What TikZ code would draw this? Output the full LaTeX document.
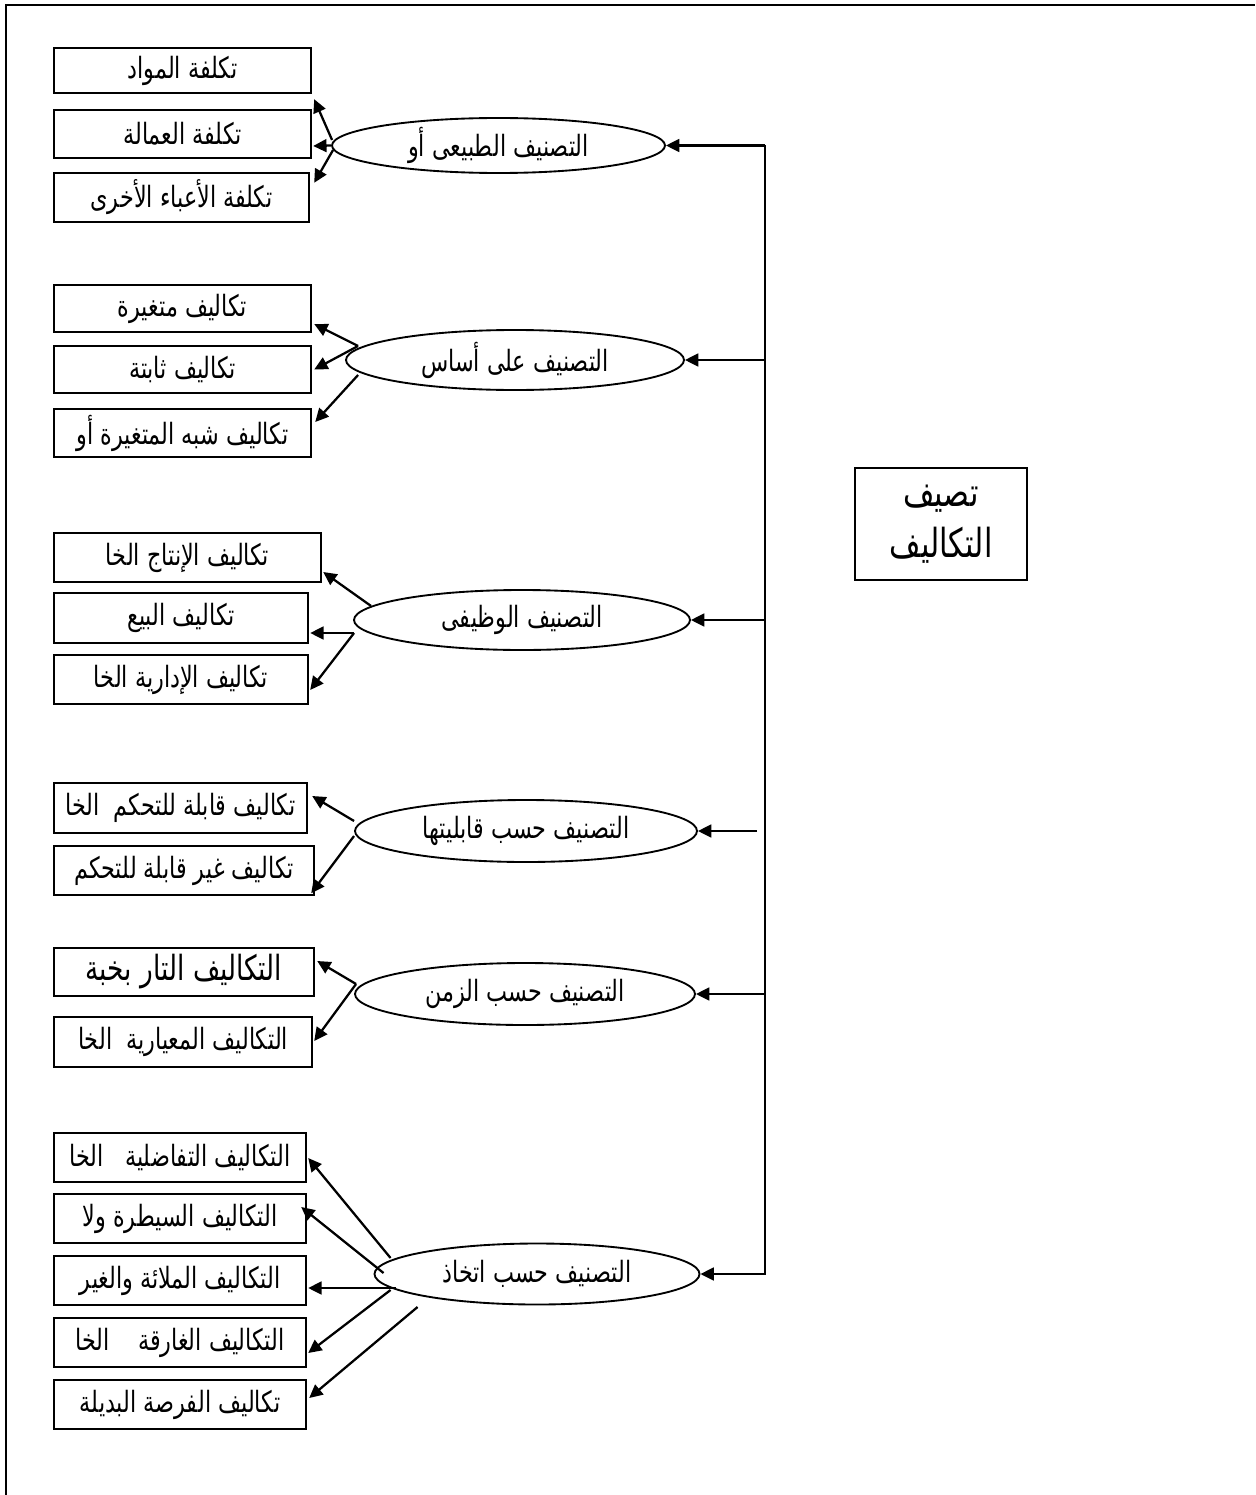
\documentclass[tikz,border=0pt]{standalone}
\usepackage{fontspec}
\usetikzlibrary{shapes.geometric,arrows.meta,calc}
\TeXXeTstate=1
\newfontfamily\arabicfont[Script=Arabic,FakeStretch=0.76]{DejaVu Sans}
\newcommand{\artxt}[1]{{\arabicfont\beginR #1\endR}}
\begin{document}
\begin{tikzpicture}[x=0.375pt,y=-0.375pt,
  cbox/.style={draw, line width=0.9pt, rectangle, inner sep=0pt, minimum height=48*0.375pt, font=\fontsize{11}{13}\selectfont},
  cell/.style={draw, line width=0.7pt, ellipse, inner sep=0pt, font=\fontsize{11}{13}\selectfont},
  arr/.style={line width=0.85pt, -{Triangle[length=5pt,width=4.8pt]}},
  frame/.style={line width=1.1pt}]
\useasboundingbox (0,0) rectangle (1255,1495);
\draw[frame] (6,1495) -- (6,5) -- (1255,5);

% group 1
\node[cbox, minimum width=257*0.375pt, minimum height=45*0.375pt] (a1) at (182.5,70.5) {\artxt{تكلفة المواد}};
\node[cbox, minimum width=257*0.375pt] (a2) at (182.5,134) {\artxt{تكلفة العمالة}};
\node[cbox, minimum width=255*0.375pt, minimum height=49*0.375pt] (a3) at (181.5,197.5) {\artxt{تكلفة الأعباء الأخرى}};
\node[cell, minimum width=333*0.375pt, minimum height=55*0.375pt] (g1) at (498.5,145.5) {\artxt{التصنيف الطبيعى أو}};

% group 2
\node[cbox, minimum width=257*0.375pt, minimum height=47*0.375pt] (b1) at (182.5,308.5) {\artxt{تكاليف متغيرة}};
\node[cbox, minimum width=257*0.375pt, minimum height=47*0.375pt] (b2) at (182.5,369.5) {\artxt{تكاليف ثابتة}};
\node[cbox, minimum width=257*0.375pt] (b3) at (182.5,433) {\artxt{تكاليف شبه المتغيرة أو}};
\node[cell, minimum width=338*0.375pt, minimum height=60*0.375pt] (g2) at (515,360) {\artxt{التصنيف على أساس}};

% group 3
\node[cbox, minimum width=267*0.375pt, minimum height=49*0.375pt] (c1) at (187.5,557.5) {\artxt{تكاليف الإنتاج الخا}};
\node[cbox, minimum width=254*0.375pt, minimum height=50*0.375pt] (c2) at (181,618) {\artxt{تكاليف البيع}};
\node[cbox, minimum width=254*0.375pt, minimum height=49*0.375pt] (c3) at (181,679.5) {\artxt{تكاليف الإدارية الخا}};
\node[cell, minimum width=336*0.375pt, minimum height=60*0.375pt] (g3) at (522,620) {\artxt{التصنيف الوظيفى}};

% group 4
\node[cbox, minimum width=253*0.375pt, minimum height=50*0.375pt] (d1) at (180.5,808) {\artxt{تكاليف قابلة للتحكم\ \ الخا}};
\node[cbox, minimum width=260*0.375pt, minimum height=49*0.375pt] (d2) at (184,870.5) {\artxt{تكاليف غير قابلة للتحكم}};
\node[cell, minimum width=342*0.375pt, minimum height=62*0.375pt] (g4) at (526,831) {\artxt{التصنيف حسب قابليتها}};

% group 5
\node[cbox, minimum width=260*0.375pt, font=\fontsize{13}{15}\selectfont] (e1) at (184,972) {\artxt{التكاليف التار بخبة}};
\node[cbox, minimum width=258*0.375pt, minimum height=50*0.375pt] (e2) at (183,1042) {\artxt{التكاليف المعيارية\ \ الخا}};
\node[cell, minimum width=340*0.375pt, minimum height=62*0.375pt] (g5) at (525,994) {\artxt{التصنيف حسب الزمن}};

% group 6
\node[cbox, minimum width=252*0.375pt, minimum height=49*0.375pt] (f1) at (180,1157.5) {\artxt{التكاليف التفاضلية\ \ \ الخا}};
\node[cbox, minimum width=252*0.375pt, minimum height=49*0.375pt] (f2) at (180,1218.5) {\artxt{التكاليف السيطرة ولا}};
\node[cbox, minimum width=252*0.375pt, minimum height=49*0.375pt] (f3) at (180,1280.5) {\artxt{التكاليف الملائة والغير}};
\node[cbox, minimum width=252*0.375pt, minimum height=49*0.375pt] (f4) at (180,1342.5) {\artxt{التكاليف الغارقة\ \ \ \ الخا}};
\node[cbox, minimum width=252*0.375pt, minimum height=49*0.375pt] (f5) at (180,1404.5) {\artxt{تكاليف الفرصة البديلة}};
\node[cell, minimum width=325*0.375pt, minimum height=61*0.375pt] (g6) at (537,1274) {\artxt{التصنيف حسب اتخاذ}};

% title
\node[draw, line width=0.9pt, minimum width=172*0.375pt, minimum height=112*0.375pt, align=center, font=\fontsize{15}{19}\selectfont] (title) at (941,524) {\artxt{تصيف}\\\artxt{التكاليف}};

% trunk
\coordinate (tk) at (765,0);
\coordinate (tk4) at (757,0);
\draw[arr] (g1.east -| tk) -- (g6.east -| tk) -- (g6.east);
\draw[arr] (g1.east -| tk) -- (g1.east);
\draw[arr] (g2.east -| tk) -- (g2.east);
\draw[arr] (g3.east -| tk) -- (g3.east);
\draw[arr] (g4.east -| tk4) -- (g4.east);
\draw[arr] (g5.east -| tk) -- (g5.east);

% group 1 arrows
\draw[arr] ($(g1.west)+(1,-5.5)$) -- ($(a1.south east)+(2,5)$);
\draw[arr] (g1.west) -- ($(a2.east)+(1,12)$);
\draw[arr] ($(g1.west)+(2,4.5)$) -- ($(a3.north east)+(4,11)$);
% group 2 arrows
\draw[arr] ($(g2.west)+(13,-14)$) -- ($(b1.east)+(2,15.5)$);
\draw[arr] ($(g2.west)+(13,-14)$) -- ($(b2.east)+(2,0)$);
\draw[arr] ($(g2.west)+(13,15)$) -- ($(b3.east)+(3,-11)$);
% group 3 arrows
\draw[arr] ($(g3.west)+(18,-14)$) -- ($(c1.east)+(1,14.5)$);
\draw[arr] ($(g3.west)+(1,13)$) -- ($(c2.east)+(1,15)$);
\draw[arr] ($(g3.west)+(1,13)$) -- ($(c3.east)+(1,10.5)$);
% group 4 arrows
\draw[arr] ($(g4.west)+(0,-10)$) -- ($(d1.east)+(4,-12)$);
\draw[arr] ($(g4.west)+(0,5)$) -- ($(d2.south east)+(-4,-3)$);
% group 5 arrows
\draw[arr] ($(g5.west)+(2,-10)$) -- ($(e1.east)+(2,-11)$);
\draw[arr] ($(g5.west)+(2,-10)$) -- ($(e2.east)+(1,-1)$);
% group 6 arrows
\draw[arr] ($(g6.west)+(17,-16)$) -- ($(f1.east)+(1,0.5)$);
\draw[arr] ($(g6.west)+(10,-1)$) -- ($(f2.east)+(-6,-11.5)$);
\draw[arr] ($(g6.west)+(22,14)$) -- ($(f3.east)+(1,7.5)$);
\draw[arr] ($(g6.west)+(17,16)$) -- ($(f4.east)+(1,10.5)$);
\draw[arr] ($(g6.west)+(44,33)$) -- ($(f5.east)+(2,-6.5)$);
\end{tikzpicture}
\end{document}
